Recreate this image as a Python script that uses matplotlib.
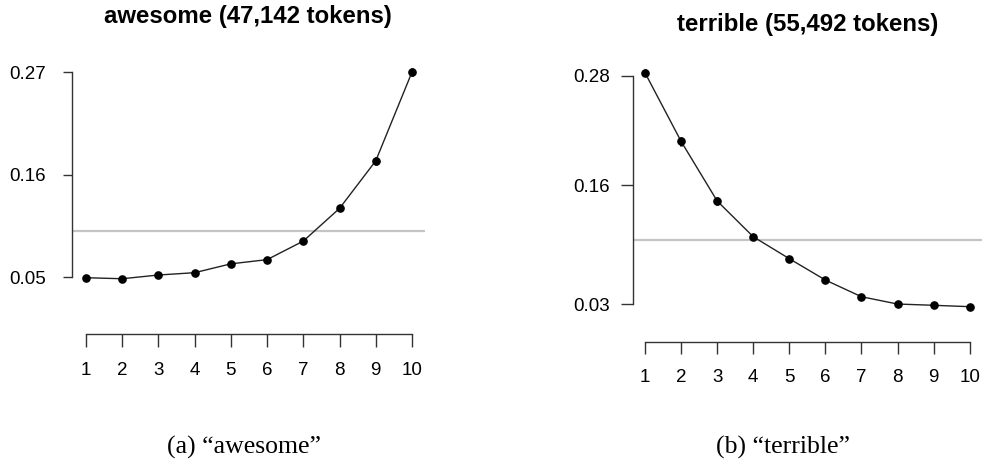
import matplotlib.pyplot as plt
import numpy as np

# star rating (1-10) and share of the word's tokens in reviews with that rating
ratings = np.arange(1, 11)

awesome = [0.0496, 0.0485, 0.0525, 0.055, 0.0645, 0.069, 0.0889, 0.124, 0.175, 0.2702]
awesome_err = [0.003, 0.003, 0.003, 0.003, 0.003, 0.003, 0.003, 0.003, 0.004, 0.004]

terrible = [0.2836, 0.2084, 0.143, 0.1038, 0.0797, 0.0563, 0.038, 0.030, 0.0286, 0.0271]
terrible_err = [0.004, 0.005, 0.004, 0.003, 0.002, 0.002, 0.0015, 0.0015, 0.0015, 0.0015]

# uniform baseline: 1 / number of ratings
baseline = 0.1

W, H = 982, 462
fig = plt.figure(figsize=(W / 100, H / 100), dpi=100)
plt.rcParams['font.family'] = ['Liberation Sans', 'DejaVu Sans']


def px_axes(left, right, top, bottom):
    return fig.add_axes([left / W, 1 - bottom / H, (right - left) / W, (bottom - top) / H])


def draw_panel(ax, y, yerr, ticks, xlim, ylim, xtick_len, ytick_len, ypad):
    ax.axhline(baseline, color='#c4c4c4', lw=1.6, zorder=1)
    ax.errorbar(ratings, y, yerr=yerr, fmt='-o', color='#222222', lw=1.0,
                ms=5.2, mfc='black', mec='black', ecolor='black', elinewidth=2.2,
                capsize=0, zorder=3)
    ax.set_xlim(*xlim)
    ax.set_ylim(*ylim)
    for s in ['top', 'right']:
        ax.spines[s].set_visible(False)
    ax.spines['left'].set_bounds(ticks[0], ticks[-1])
    ax.spines['bottom'].set_bounds(1, 10)
    for s in ['left', 'bottom']:
        ax.spines[s].set_color('#333333')
        ax.spines[s].set_linewidth(1.0)
    ax.set_xticks(ratings)
    ax.set_yticks(ticks)
    ax.set_yticklabels(['%.2f' % t for t in ticks])
    ax.tick_params(axis='x', length=xtick_len, width=1.0, color='#333333',
                   pad=11, labelsize=13.5)
    ax.tick_params(axis='y', length=ytick_len, width=1.0, color='#333333',
                   pad=ypad, labelsize=13.5)


# (a) awesome
ax1 = px_axes(72, 425, 55, 334)
draw_panel(ax1, awesome, awesome_err, [0.05, 0.16, 0.27],
           (0.613, 10.36), (-0.0108, 0.2886), 9.0, 6.8, 12)

# (b) terrible
ax2 = px_axes(632.7, 982, 55, 341.7)
draw_panel(ax2, terrible, terrible_err, [0.03, 0.16, 0.28],
           (0.66, 10.34), (-0.0113, 0.303), 8.4, 8.4, 8)

# panel titles
fig.text(248 / W, 1 - 17 / H, 'awesome (47,142 tokens)', ha='center', va='center',
         fontsize=17.3, fontweight='bold')
fig.text(807.7 / W, 1 - 25 / H, 'terrible (55,492 tokens)', ha='center', va='center',
         fontsize=17.3, fontweight='bold')

# sub-figure captions
fig.text(244 / W, 1 - 447 / H, '(a) \u201cawesome\u201d', ha='center', va='center',
         fontsize=18.5, family=['Liberation Serif', 'DejaVu Serif'])
fig.text(782.5 / W, 1 - 447 / H, '(b) \u201cterrible\u201d', ha='center', va='center',
         fontsize=18.5, family=['Liberation Serif', 'DejaVu Serif'])

fig.savefig('out.png', dpi=100)
